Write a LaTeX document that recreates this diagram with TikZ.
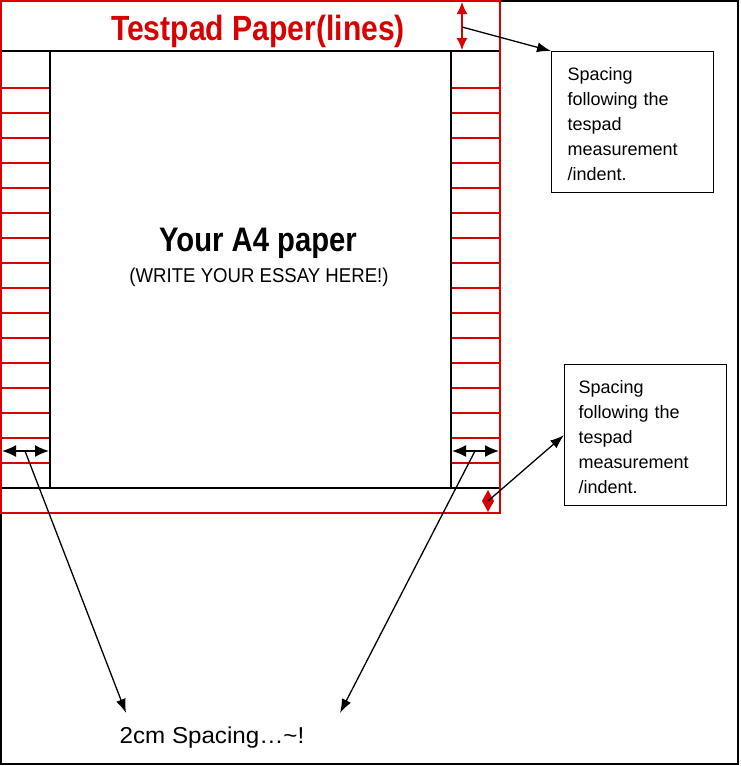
\documentclass[tikz,border=0pt]{standalone}
\usepackage{fontspec}
\setmainfont{Liberation Sans}
\usetikzlibrary{arrows.meta}
\begin{document}
\begin{tikzpicture}[x=1pt,y=-1pt,
  note/.style={draw,line width=1.3pt,align=left,anchor=north west,inner sep=0pt,font=\fontsize{18}{25}\selectfont},
  arr/.style={-{Latex[length=14pt,width=10pt]},line width=1.3pt},
  dbl/.style={{Latex[length=14pt,width=12pt]}-{Latex[length=14pt,width=12pt]},line width=1.5pt},
  rl/.style={red!85!black,line width=2pt}]
\useasboundingbox (0,0) rectangle (741,766);
\draw[line width=1.5pt] (1,1) rectangle (738,764);
\foreach \y in {88,113,...,463} {\draw[rl] (1,\y) -- (50,\y); \draw[rl] (451,\y) -- (500,\y);}
\draw[line width=1.5pt] (1,51) -- (500,51);
\draw[line width=1.5pt] (1,488) -- (500,488);
\draw[line width=1.5pt] (50,51) -- (50,488);
\draw[line width=1.5pt] (451,51) -- (451,488);
\draw[red!85!black,line width=1.5pt] (1,1) rectangle (500,513);
\node (title) at (258,31) {\fontsize{35}{35}\selectfont\bfseries\color{red!85!black}\scalebox{0.86}[1]{Testpad Paper(lines)}};
\node (a4) at (258,243) {\fontsize{34}{34}\selectfont\bfseries\scalebox{0.86}[1]{Your A4 paper}};
\node (w) at (259,277) {\fontsize{20}{20}\selectfont\scalebox{0.93}[1]{(WRITE YOUR ESSAY HERE!)}};
\coordinate (t1) at (462,2); \coordinate (t2) at (462,50);
\draw[red!85!black,line width=1.5pt,{Latex[length=12pt,width=11pt]}-{Latex[length=12pt,width=11pt]}] (t1) -- (t2);
\fill[red!85!black] (488,490) -- (494,501) -- (488,512) -- (482,501) -- cycle;
\coordinate (rb) at (488,501);
\coordinate (tm) at (462,27);
\node[note,minimum height=141pt,text width=162pt] (n1) at (551,51) {\hspace{16pt}\parbox[t]{140pt}{\vspace{3pt}Spacing\\following the\\tespad\\measurement\\/indent.}};
\node[note,minimum height=141pt,text width=162pt] (n2) at (564,364) {\hspace{14pt}\parbox[t]{145pt}{\vspace{3pt}Spacing\\following the\\tespad\\measurement\\/indent.}};
\draw[arr] (tm) -- (n1.north west);
\draw[arr] (rb) -- (n2.west);
\coordinate (l1) at (2,451); \coordinate (l2) at (49,451);
\coordinate (r1) at (452,451); \coordinate (r2) at (499,451);
\draw[dbl] (l1) -- (l2);
\draw[dbl] (r1) -- (r2);
\node (sp) at (212,738) {\fontsize{23}{23}\selectfont\scalebox{1.05}[1]{2cm Spacing\ldots\textasciitilde!}};
\coordinate (lm) at (25,451); \coordinate (rm) at (475,451);
\coordinate (le) at (126,713); \coordinate (re) at (340,713);
\draw[arr] (lm) -- (le);
\draw[arr] (rm) -- (re);
\end{tikzpicture}
\end{document}
